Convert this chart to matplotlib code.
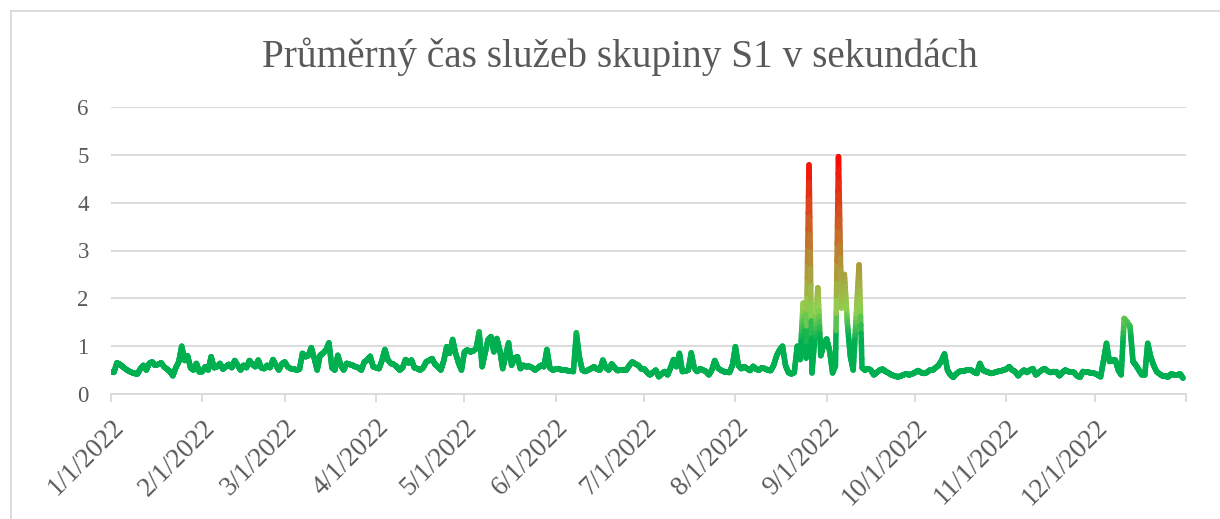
import numpy as np
import pandas as pd
import matplotlib
matplotlib.use("Agg")
import matplotlib.pyplot as plt
import matplotlib.dates as mdates
from matplotlib.collections import LineCollection
from matplotlib.colors import LinearSegmentedColormap
from matplotlib.lines import Line2D

title = "Průměrný čas služeb skupiny S1 v sekundách"

# daily average service time [s], one list per month of 2022
jan = [0.45, 0.45, 0.65, 0.62, 0.57, 0.52, 0.48, 0.45, 0.43, 0.42, 0.53, 0.60, 0.50, 0.64, 0.67, 0.60,
       0.62, 0.65, 0.57, 0.52, 0.47, 0.38, 0.55, 0.67, 1.00, 0.70, 0.80, 0.55, 0.50, 0.64, 0.47]
feb = [0.47, 0.57, 0.50, 0.78, 0.55, 0.57, 0.64, 0.52, 0.57, 0.62, 0.55, 0.70, 0.60, 0.50, 0.60, 0.55,
       0.70, 0.62, 0.57, 0.71, 0.55, 0.53, 0.60, 0.55, 0.72, 0.60, 0.50, 0.63]
mar = [0.67, 0.57, 0.53, 0.53, 0.50, 0.52, 0.85, 0.78, 0.80, 0.97, 0.75, 0.50, 0.81, 0.85, 0.92, 1.07,
       0.55, 0.50, 0.81, 0.60, 0.50, 0.64, 0.62, 0.60, 0.57, 0.55, 0.50, 0.67, 0.71, 0.79, 0.57]
apr = [0.55, 0.53, 0.70, 0.93, 0.71, 0.64, 0.62, 0.57, 0.50, 0.55, 0.72, 0.65, 0.71, 0.55, 0.53, 0.50,
       0.55, 0.67, 0.70, 0.74, 0.62, 0.57, 0.50, 0.70, 0.99, 0.85, 1.14, 0.85, 0.65, 0.50]
may = [0.88, 0.92, 0.88, 0.90, 0.95, 1.30, 0.57, 0.85, 1.13, 1.20, 0.88, 1.16, 0.92, 0.53, 0.80, 1.07,
       0.60, 0.75, 0.78, 0.53, 0.60, 0.57, 0.58, 0.55, 0.50, 0.55, 0.60, 0.57, 0.93, 0.55, 0.50]
jun = [0.52, 0.53, 0.50, 0.50, 0.49, 0.48, 0.47, 1.28, 0.78, 0.50, 0.47, 0.50, 0.53, 0.57, 0.52, 0.50,
       0.71, 0.55, 0.50, 0.63, 0.55, 0.49, 0.50, 0.51, 0.50, 0.60, 0.67, 0.63, 0.60, 0.53]
jul = [0.53, 0.45, 0.40, 0.45, 0.50, 0.36, 0.42, 0.47, 0.40, 0.55, 0.72, 0.57, 0.85, 0.47, 0.48, 0.50,
       0.86, 0.55, 0.47, 0.53, 0.50, 0.47, 0.40, 0.50, 0.70, 0.55, 0.50, 0.47, 0.46, 0.45, 0.60]
aug = [0.99, 0.60, 0.53, 0.57, 0.53, 0.49, 0.58, 0.52, 0.50, 0.55, 0.53, 0.50, 0.49, 0.60, 0.80, 0.92,
       1.00, 0.60, 0.45, 0.42, 0.45, 1.00, 0.72, 1.90, 0.75, 4.79, 0.44, 1.20, 2.22, 0.80, 1.05]
sep = [1.15, 0.90, 0.44, 0.60, 4.96, 1.80, 2.50, 1.50, 0.80, 0.50, 1.60, 2.70, 0.55, 0.50, 0.53, 0.50,
       0.40, 0.45, 0.50, 0.52, 0.47, 0.44, 0.40, 0.38, 0.36, 0.37, 0.40, 0.42, 0.40, 0.42]
oct_ = [0.45, 0.49, 0.45, 0.43, 0.45, 0.50, 0.50, 0.55, 0.60, 0.70, 0.84, 0.50, 0.40, 0.35, 0.42, 0.47,
        0.48, 0.49, 0.50, 0.50, 0.46, 0.43, 0.64, 0.50, 0.47, 0.45, 0.43, 0.45, 0.47, 0.48, 0.50]
nov = [0.52, 0.57, 0.50, 0.47, 0.38, 0.45, 0.50, 0.45, 0.50, 0.53, 0.40, 0.45, 0.50, 0.53, 0.48, 0.45,
       0.47, 0.47, 0.38, 0.45, 0.50, 0.47, 0.46, 0.45, 0.38, 0.35, 0.47, 0.45, 0.45, 0.44]
dec = [0.43, 0.40, 0.36, 0.70, 1.06, 0.68, 0.70, 0.71, 0.50, 0.40, 1.58, 1.50, 1.41, 0.68, 0.60, 0.50,
       0.40, 0.40, 1.06, 0.78, 0.60, 0.47, 0.42, 0.38, 0.37, 0.36, 0.42, 0.40, 0.40, 0.42, 0.33]

values = np.array(jan + feb + mar + apr + may + jun + jul + aug + sep + oct_ + nov + dec)
dates = pd.date_range("2022-01-01", periods=len(values), freq="D")
month_starts = pd.date_range("2022-01-01", "2023-01-01", freq="MS")
tick_labels = [f"{d.month}/{d.day}/{d.year}" for d in month_starts[:-1]] + [""]

grey = "#595959"
grid_c = "#D9D9D9"

fig = plt.figure(figsize=(12.2, 5.19), dpi=100)
ax = fig.add_axes([111 / 1220, 1 - 394 / 519, (1186 - 111) / 1220, (394 - 107) / 519])

# gradient colour by value, like the Excel gradient line
cmap = LinearSegmentedColormap.from_list(
    "svc", [(0.0, "#00B050"), (1.15 / 5, "#00B050"), (1.75 / 5, "#92D050"), (1.0, "#FF0000")])
xn = mdates.date2num(dates)
sub = 12
xs, ys = [], []
for i in range(len(values) - 1):
    t = np.linspace(0, 1, sub, endpoint=False)
    xs.append(xn[i] + t * (xn[i + 1] - xn[i]))
    ys.append(values[i] + t * (values[i + 1] - values[i]))
xs.append([xn[-1]])
ys.append([values[-1]])
xs = np.concatenate(xs)
ys = np.concatenate(ys)
pts = np.column_stack([xs, ys]).reshape(-1, 1, 2)
segs = np.concatenate([pts[:-1], pts[1:]], axis=1)
mid = (ys[:-1] + ys[1:]) / 2
lc = LineCollection(segs, cmap=cmap, norm=plt.Normalize(0, 5), linewidths=4.0,
                    capstyle="round", joinstyle="round", zorder=3)
lc.set_array(mid)
ax.add_collection(lc)

ax.set_xlim(mdates.date2num(pd.Timestamp("2022-01-01")), mdates.date2num(pd.Timestamp("2023-01-01")))
ax.set_ylim(0, 6)
ax.set_yticks(range(7))
ax.set_xticks(mdates.date2num(month_starts))
ax.set_xticklabels(tick_labels, rotation=45, ha="right", va="top", rotation_mode="anchor")

ax.grid(axis="y", color=grid_c, linewidth=1.3)
ax.set_axisbelow(True)
for s in ["top", "right", "left"]:
    ax.spines[s].set_visible(False)
ax.spines["bottom"].set_color(grid_c)
ax.spines["bottom"].set_linewidth(1.3)
ax.tick_params(axis="y", length=0, pad=16, labelsize=16.5, labelcolor=grey)
ax.tick_params(axis="x", length=6, width=1.3, color=grid_c, pad=9, labelsize=19.5, labelcolor=grey)
for lab in ax.get_xticklabels() + ax.get_yticklabels():
    lab.set_fontfamily("Liberation Serif")

fig.text(620 / 1220, 1 - 67 / 519, title, ha="center", va="baseline",
         fontsize=28.3, color=grey, fontfamily="Liberation Serif")

# chart area frame (only top and left edges fall inside the picture)
fig.add_artist(Line2D([11 / 1220, 1.0], [1 - 10.5 / 519] * 2, color=grid_c, linewidth=1.3))
fig.add_artist(Line2D([11 / 1220] * 2, [0.0, 1 - 10.5 / 519], color=grid_c, linewidth=1.3))

fig.savefig("out.png", dpi=100)
